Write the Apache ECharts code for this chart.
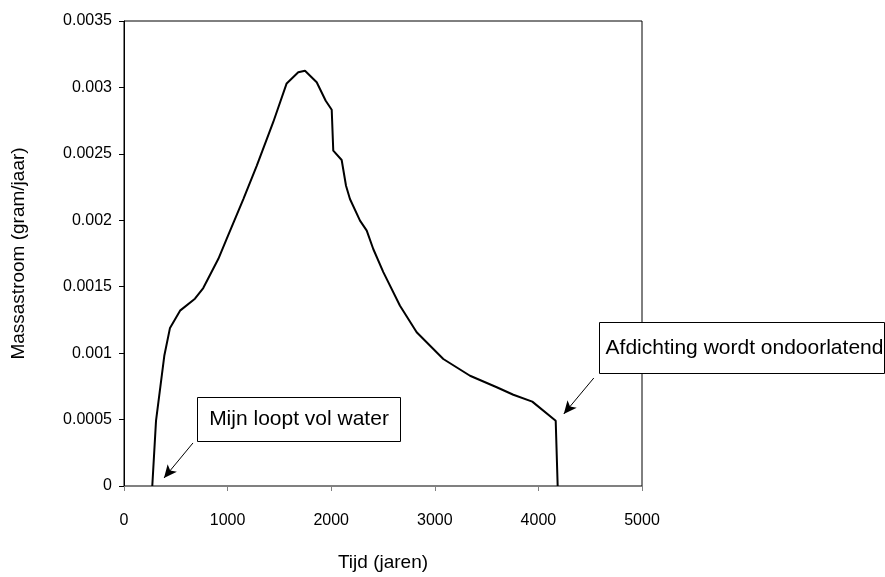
<!DOCTYPE html>
<html>
<head>
<meta charset="utf-8">
<script src="https://cdn.jsdelivr.net/npm/echarts@6/dist/echarts.min.js"></script>
<style>
  html, body { margin: 0; padding: 0; background: #fff; }
  #chart { width: 885px; height: 577px; }
</style>
</head>
<body>
<div id="chart"></div>
<script>
// tijd (jaren) en massastroom (gram/jaar)
var tijd = [273, 309, 389, 444, 541, 685, 765, 911, 991, 1152, 1281, 1441, 1570, 1682, 1747,
  1860, 1947, 2005, 2020, 2101, 2143, 2181, 2278, 2343, 2406, 2503, 2664, 2825, 3082,
  3340, 3598, 3758, 3941, 4167, 4186];
var massastroom = [0, 0.00049, 0.00098, 0.00119, 0.00132, 0.00141, 0.00149, 0.00171, 0.00186,
  0.00216, 0.00241, 0.00274, 0.00303, 0.003114, 0.003126, 0.003039, 0.0029, 0.002832,
  0.002524, 0.002454, 0.00226, 0.00216, 0.001997, 0.001922, 0.001784, 0.00161, 0.001357,
  0.001157, 0.000956, 0.00083, 0.000743, 0.000687, 0.000635, 0.000491, 0];

var xTicks = ['0', '1000', '2000', '3000', '4000', '5000'];
var yTicks = ['0', '0.0005', '0.001', '0.0015', '0.002', '0.0025', '0.003', '0.0035'];

// pijlen van de tekstvakken naar de curve [start, eind]
var pijl1 = [[666, 0.000324], [386, 0.00006]];
var pijl2 = [[4535, 0.000813], [4245, 0.000542]];

var lineData = [];
for (var i = 0; i < tijd.length; i++) {
  lineData.push([tijd[i], massastroom[i]]);
}

var font = 'Liberation Sans, Arial, sans-serif';
var chart = echarts.init(document.getElementById('chart'));

var option = {
  animation: false,
  backgroundColor: '#fff',
  grid: {
    left: 124, top: 21, right: 243, bottom: 90,
    show: true, borderColor: '#000', borderWidth: 1, backgroundColor: '#fff'
  },
  xAxis: {
    type: 'value', min: 0, max: 5000, interval: 1000,
    name: 'Tijd (jaren)', nameLocation: 'middle', nameGap: 67,
    nameTextStyle: { fontFamily: font, fontSize: 19, color: '#000' },
    axisLine: { lineStyle: { color: '#808080', width: 1 } },
    axisTick: { show: true, length: 5, lineStyle: { color: '#808080' } },
    axisLabel: {
      fontFamily: font, fontSize: 16, color: '#000', margin: 27,
      formatter: function (v) {
        return xTicks[Math.round(v / 1000)];
      }
    },
    splitLine: { show: false }
  },
  yAxis: {
    type: 'value', min: 0, max: 0.0035, interval: 0.0005,
    name: 'Massastroom (gram/jaar)', nameLocation: 'middle', nameGap: 96,
    nameTextStyle: { fontFamily: font, fontSize: 19, color: '#000' },
    axisLine: { show: true, lineStyle: { color: '#000', width: 1 } },
    axisTick: { show: true, length: 5, lineStyle: { color: '#000' } },
    axisLabel: {
      fontFamily: font, fontSize: 16, color: '#000', margin: 12,
      formatter: function (v) {
        return yTicks[Math.round(v / 0.0005)];
      }
    },
    splitLine: { show: false }
  },
  series: [{
    type: 'line',
    data: lineData,
    showSymbol: false,
    lineStyle: { color: '#000', width: 2 },
    markLine: {
      silent: true,
      symbol: ['none', 'arrow'],
      symbolSize: [9, 13],
      label: { show: false },
      lineStyle: { color: '#000', width: 1, type: 'solid' },
      data: [
        [{ coord: pijl1[0] }, { coord: pijl1[1] }],
        [{ coord: pijl2[0] }, { coord: pijl2[1] }]
      ]
    }
  }],
  graphic: [
    {
      type: 'group', left: 197, top: 397,
      children: [
        { type: 'rect', shape: { x: 0, y: 0, width: 203, height: 44 },
          style: { fill: '#fff', stroke: '#000', lineWidth: 1 } },
        { type: 'text', x: 101.5, y: 22,
          style: { text: 'Mijn loopt vol water', font: '21px ' + font, fill: '#000',
            textAlign: 'center', textVerticalAlign: 'middle' } }
      ]
    },
    {
      type: 'group', left: 599, top: 322,
      children: [
        { type: 'rect', shape: { x: 0, y: 0, width: 285, height: 51 },
          style: { fill: '#fff', stroke: '#000', lineWidth: 1 } },
        { type: 'text', x: 145, y: 25.5,
          style: { text: 'Afdichting wordt ondoorlatend', font: '21px ' + font, fill: '#000',
            textAlign: 'center', textVerticalAlign: 'middle' } }
      ]
    }
  ]
};

chart.setOption(option);
</script>
</body>
</html>
